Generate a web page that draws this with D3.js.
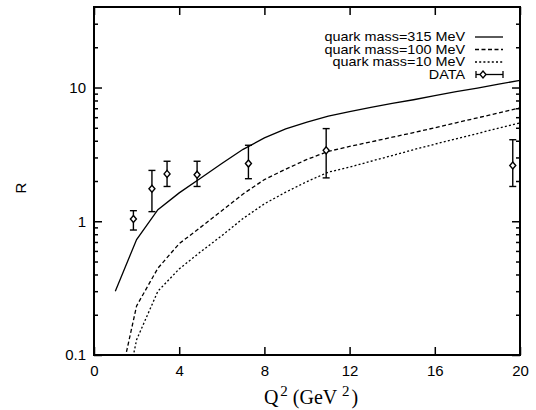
<!DOCTYPE html>
<html><head><meta charset="utf-8">
<script src="https://cdn.jsdelivr.net/npm/d3@7"></script>
<style>body{margin:0;background:#fff}svg{display:block}</style>
</head><body><svg id="c" width="536" height="410"></svg>
<script>
const q2 = [1,2,3,4,5,6,7,8,9,10,11,12,13,14,15,16,17,18,19,20];
const r315 = [0.30,0.73,1.22,1.63,2.10,2.70,3.45,4.20,4.90,5.50,6.10,6.60,7.10,7.60,8.10,8.70,9.30,9.90,10.6,11.3];
const r100 = [0.044,0.233,0.446,0.68,0.90,1.20,1.60,2.05,2.45,2.90,3.33,3.63,3.92,4.25,4.60,5.00,5.45,5.93,6.46,7.05];
const r10 = [0.022,0.13,0.30,0.44,0.59,0.78,1.05,1.35,1.65,1.98,2.33,2.54,2.81,3.10,3.43,3.77,4.13,4.53,4.97,5.45];
const dataQ2 = [1.85,2.72,3.43,4.84,7.25,10.9,19.66];
const dataR = [1.04,1.75,2.26,2.23,2.70,3.39,2.61];
const dataLo = [0.86,1.18,1.82,1.82,2.08,2.11,1.82];
const dataHi = [1.20,2.40,2.81,2.81,3.70,4.93,4.07];
const xTicks = [0,4,8,12,16,20];
const yTicks = [0.1,1,10];
const yMinor = [0.2,0.3,0.4,0.5,0.6,0.7,0.8,0.9,2,3,4,5,6,7,8,9,20,30];
const seriesLabels = ["quark mass=315 MeV","quark mass=100 MeV","quark mass=10 MeV"];
const dataLabel = "DATA";

const L=94,R=520,T=7,B=355;
const svg=d3.select("#c");
const x=d3.scaleLinear().domain([0,20]).range([L,R]);
const y=d3.scaleLog().domain([0.1,40]).range([B,T]);
const font='"Liberation Sans", Arial, Helvetica, sans-serif';

svg.append("defs").append("clipPath").attr("id","clip").append("rect")
  .attr("x",L).attr("y",T).attr("width",R-L).attr("height",B-T);

function styleAxis(g){g.select(".domain").remove();g.selectAll("line").attr("stroke","#000").attr("stroke-width",1.5);
  g.selectAll("text").attr("font-family",font).attr("font-size",15).attr("fill","#000");}

svg.append("g").attr("transform",`translate(0,${B})`)
  .call(d3.axisBottom(x).tickValues(xTicks).tickSize(-8).tickPadding(10).tickFormat(d3.format("d"))).call(styleAxis);
svg.append("g").attr("transform",`translate(0,${T})`)
  .call(d3.axisTop(x).tickValues(xTicks).tickSize(-8).tickFormat("")).call(styleAxis);
svg.append("g").attr("transform",`translate(${L},0)`)
  .call(d3.axisLeft(y).tickValues(yTicks).tickSize(-8).tickPadding(8).tickFormat(d=>String(d))).call(styleAxis);
svg.append("g").attr("transform",`translate(${L},0)`)
  .call(d3.axisLeft(y).tickValues(yMinor).tickSize(-4).tickFormat("")).call(styleAxis);
svg.append("g").attr("transform",`translate(${R},0)`)
  .call(d3.axisRight(y).tickValues(yTicks).tickSize(-8).tickFormat("")).call(styleAxis);
svg.append("g").attr("transform",`translate(${R},0)`)
  .call(d3.axisRight(y).tickValues(yMinor).tickSize(-4).tickFormat("")).call(styleAxis);

svg.append("rect").attr("x",L).attr("y",T).attr("width",R-L).attr("height",B-T)
  .attr("fill","none").attr("stroke","#000").attr("stroke-width",2);

const dashes=[null,"4,2.5","2,2.2"];
const series=[r315,r100,r10];
const line=d3.line().x(d=>x(d[0])).y(d=>y(d[1]));
const cg=svg.append("g").attr("clip-path","url(#clip)");
series.forEach((s,i)=>{
  cg.append("path").attr("d",line(q2.map((q,j)=>[q,s[j]])))
    .attr("fill","none").attr("stroke","#000").attr("stroke-width",1.3)
    .attr("stroke-dasharray",dashes[i]);
});

const dg=svg.append("g").attr("stroke","#000").attr("stroke-width",1.4).attr("fill","none");
dataQ2.forEach((q,i)=>{
  const cx=x(q);
  dg.append("line").attr("x1",cx).attr("x2",cx).attr("y1",y(dataLo[i])).attr("y2",y(dataHi[i]));
  dg.append("line").attr("x1",cx-3.5).attr("x2",cx+3.5).attr("y1",y(dataLo[i])).attr("y2",y(dataLo[i]));
  dg.append("line").attr("x1",cx-3.5).attr("x2",cx+3.5).attr("y1",y(dataHi[i])).attr("y2",y(dataHi[i]));
  const cy=y(dataR[i]);
  dg.append("path").attr("d",`M${cx},${cy-3.5}L${cx+3},${cy}L${cx},${cy+3.5}L${cx-3},${cy}Z`).attr("fill","#fff");
});

const lx=465, rowY=[37,49.5,62,74.5];
const lg=svg.append("g");
seriesLabels.concat([dataLabel]).forEach((t,i)=>{
  lg.append("text").attr("transform",`translate(${lx},${rowY[i]+4.3}) scale(1.2,1)`)
    .attr("text-anchor","end").attr("font-family",font).attr("font-size",12).text(t);
  if(i<3){
    lg.append("line").attr("x1",475).attr("x2",503).attr("y1",rowY[i]).attr("y2",rowY[i])
      .attr("stroke","#000").attr("stroke-width",1.3).attr("stroke-dasharray",dashes[i]);
  } else {
    const yy=rowY[i];
    lg.append("line").attr("x1",476).attr("x2",503).attr("y1",yy).attr("y2",yy).attr("stroke","#000").attr("stroke-width",1.3);
    lg.append("line").attr("x1",476).attr("x2",476).attr("y1",yy-3.5).attr("y2",yy+3.5).attr("stroke","#000").attr("stroke-width",1.3);
    lg.append("line").attr("x1",503).attr("x2",503).attr("y1",yy-3.5).attr("y2",yy+3.5).attr("stroke","#000").attr("stroke-width",1.3);
    lg.append("path").attr("d",`M483,${yy-3.5}L486,${yy}L483,${yy+3.5}L480,${yy}Z`).attr("fill","#fff").attr("stroke","#000").attr("stroke-width",1.3);
  }
});

svg.append("text").attr("transform","translate(26,188) rotate(-90)").attr("text-anchor","middle")
  .attr("font-family",font).attr("font-size",15).text("R");
const xt=svg.append("text").attr("x",311).attr("y",404).attr("text-anchor","middle")
  .attr("font-family",'"Liberation Serif","Times New Roman",serif').attr("font-size",20);
xt.append("tspan").text("Q");
xt.append("tspan").attr("dx",2).attr("dy",-8).attr("font-size",15).text("2");
xt.append("tspan").attr("dy",8).text(" (GeV ");
xt.append("tspan").attr("dy",-8).attr("font-size",15).text("2");
xt.append("tspan").attr("dx",2).attr("dy",8).text(")");
</script></body></html>
